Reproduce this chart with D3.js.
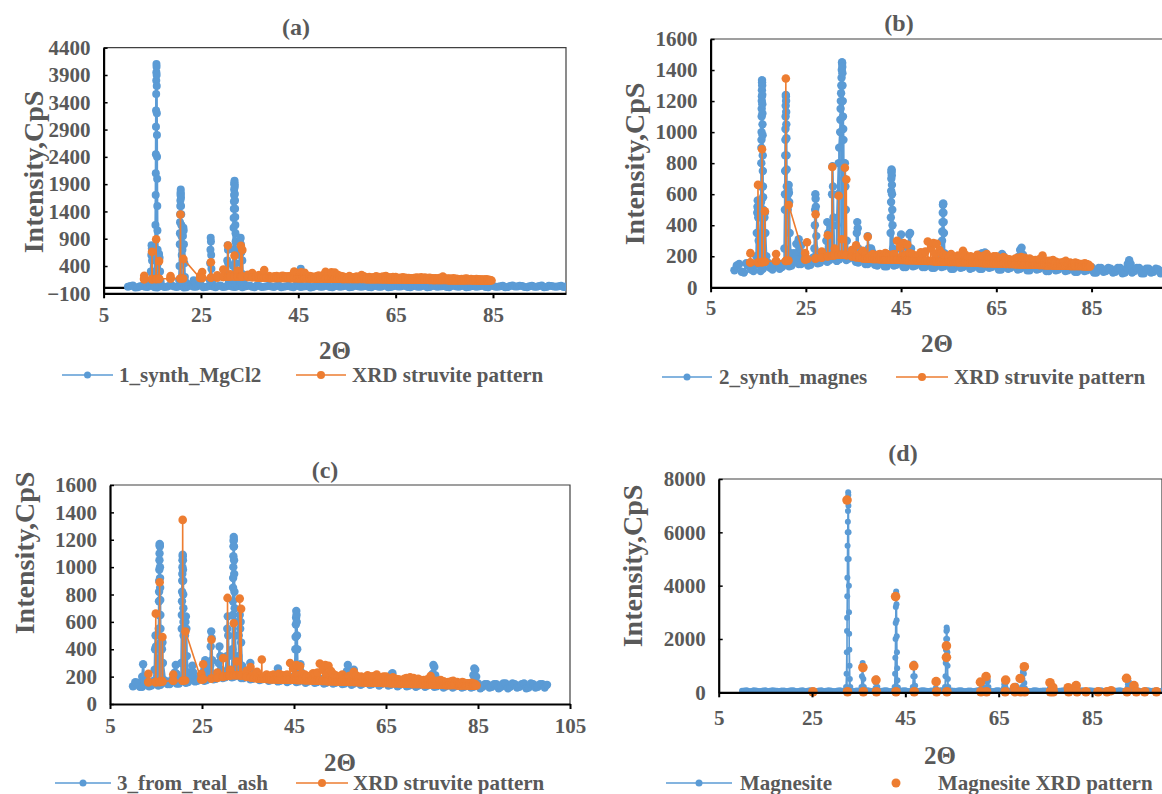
<!DOCTYPE html>
<html><head><meta charset="utf-8">
<script src="https://cdn.jsdelivr.net/npm/d3@7"></script>
<style>
body{margin:0;background:#fff}
svg{display:block}
text{font-family:"Liberation Serif","Times New Roman",serif;font-weight:bold;fill:#595959}
</style>
</head><body>
<svg id="chart" width="1162" height="794"></svg>
<script>
// ---------------- DATA ----------------
// scan grid (2θ) for background readings
const scanX = [10,11,12,13,14,15,16,17,18,19,20,21,22,23,24,25,26,27,28,29,30,31,32,33,34,35,36,37,38,39,40,41,42,43,44,45,46,47,48,49,50,51,52,53,54,55,56,57,58,59,60,61,62,63,64,65,66,67,68,69,70,71,72,73,74,75,76,77,78,79,80,81,82,83,84,85,86,87,88,89,90,91,92,93,94,95,96,97,98,99,100];
const scanXHalf = [10.5,11.5,12.5,13.5,14.5,15.5,16.5,17.5,18.5,19.5,20.5,21.5,22.5,23.5,24.5,25.5,26.5,27.5,28.5,29.5,30.5,31.5,32.5,33.5,34.5,35.5,36.5,37.5,38.5,39.5,40.5,41.5,42.5,43.5,44.5,45.5,46.5,47.5,48.5,49.5,50.5,51.5,52.5,53.5,54.5,55.5,56.5,57.5,58.5,59.5,60.5,61.5,62.5,63.5,64.5,65.5,66.5,67.5,68.5,69.5,70.5,71.5,72.5,73.5,74.5,75.5,76.5,77.5,78.5,79.5,80.5,81.5,82.5,83.5,84.5,85.5,86.5,87.5,88.5,89.5,90.5,91.5,92.5,93.5,94.5,95.5,96.5,97.5,98.5,99.5];

// (a) 1_synth_MgCl2
const baseA = [20,45,10,40,15,35,5,40,20,45, 15,40,10,45,20,50,15,40,10,45, 20,35,15,40,25,45,10,35,20,40, 15,45,20,40,10,35,25,45,15,40, 20,35,10,40,25,45,15,35,20,40, 10,35,20,45,15,40,25,35,10,40, 20,45,15,35,25,40,10,45,20,35, 15,40,25,45,10,35,20,40,15,45, 25,35,10,40,20,45,15,35,20,40, 25];
const baseA2 = [35,5,30,20,45,10,30,15,40,25, 30,5,35,20,40,10,30,25,35,15, 40,20,30,10,35,20,45,15,30,25, 35,10,30,20,45,15,30,5,35,20, 40,15,30,20,35,10,40,25,30,15, 35,20,40,10,30,25,45,15,30,20, 35,10,40,20,30,15,35,25,40,10, 30,20,35,15,45,20,30,10,35,25, 40,15,30,20,35,10,40,25,30,15];
const peaksA = [[14.6,60],[14.7,300],[14.8,600],[14.85,780],[14.9,720],[14.95,500],[15.0,250],[15.1,100],
 [15.4,120],[15.5,300],[15.6,700],[15.65,1150],[15.7,1700],[15.72,2100],[15.74,2450],[15.76,2950],[15.78,3250],[15.8,3550],[15.82,3800],[15.84,3950],[15.86,4100],[15.88,4050],[15.9,3900],[15.92,3700],[15.94,3200],[15.96,2800],[15.98,2400],[16.0,2000],[16.03,1500],[16.06,1050],[16.1,700],[16.15,450],
 [16.3,500],[16.4,620],[16.5,550],[16.6,300],[16.7,120],
 [20.5,150],[20.6,400],[20.65,800],[20.67,1000],[20.7,1200],[20.72,1350],[20.75,1500],[20.77,1600],[20.8,1700],[20.82,1750],[20.85,1800],[20.87,1720],[20.9,1650],[20.92,1500],[20.95,1350],[20.97,1150],[21.0,950],[21.02,780],[21.05,600],
 [21.2,700],[21.3,950],[21.4,1100],[21.45,1050],[21.5,800],[21.6,450],[21.7,200],[21.9,100],
 [23.2,80],[23.5,140],[23.8,90],
 [26.8,150],[26.9,450],[26.95,700],[27.0,920],[27.05,850],[27.1,600],[27.15,350],[27.3,120],
 [30.3,200],[30.4,500],[30.5,780],[30.55,700],[30.6,450],[30.7,200],
 [31.5,150],[31.6,400],[31.65,700],[31.7,1100],[31.72,1280],[31.75,1450],[31.77,1580],[31.8,1700],[31.82,1800],[31.85,1900],[31.87,1930],[31.9,1960],[31.92,1900],[31.95,1850],[31.97,1720],[32.0,1600],[32.02,1450],[32.05,1300],[32.07,1150],[32.1,1000],[32.12,850],[32.15,700],[32.2,450],[32.3,250],
 [32.9,300],[33.0,600],[33.1,900],[33.15,920],[33.2,800],[33.3,650],[33.4,680],[33.5,500],[33.6,250],[33.8,100],
 [45.3,150],[45.5,350],[45.7,200]];

// (b) 2_synth_magnes
const baseB = [110,150,95,140,105,150,120,160,115,155, 130,170,140,180,150,175,145,185,160,190, 175,200,180,205,185,190,160,175,150,170, 140,165,135,160,145,165,130,160,140,155, 130,155,125,150,135,150,120,145,130,150, 125,145,120,150,130,140,115,145,125,140, 120,140,110,135,120,140,105,135,115,130, 110,130,100,125,110,130,95,125,105,120, 100,125,95,120,105,125,90,120,100,115, 105];
const baseB2 = [140,100,155,115,145,105,165,125,150,120, 160,135,185,150,170,140,190,155,180,165, 205,170,210,175,195,165,185,150,175,145, 170,135,165,140,170,130,165,135,160,130, 160,125,155,130,155,120,150,125,150,120, 150,120,145,125,150,115,145,120,140,115, 145,110,140,115,140,105,135,110,130,105, 135,100,130,105,130,95,125,100,125,95, 125,90,125,95,125,90,120,95,120,90];
const peaksB = [[14.6,200],[14.7,350],[14.8,480],[14.85,520],[14.9,560],[14.95,510],[15.0,450],[15.1,300],
 [15.5,300],[15.6,550],[15.62,650],[15.65,800],[15.67,900],[15.68,950],[15.7,1000],[15.72,1100],[15.73,1150],[15.75,1200],[15.77,1230],[15.78,1270],[15.8,1335],[15.81,1320],[15.83,1300],[15.85,1240],[15.86,1180],[15.88,1120],[15.9,1050],[15.92,980],[15.95,850],[15.97,750],[16.0,650],[16.02,580],[16.05,500],
 [16.3,450],[16.4,480],[16.5,350],[16.7,200],
 [20.5,250],[20.6,500],[20.62,600],[20.65,750],[20.67,850],[20.7,950],[20.72,1020],[20.75,1100],[20.77,1170],[20.8,1240],[20.82,1230],[20.85,1200],[20.87,1130],[20.9,1050],[20.92,960],[20.95,850],[20.97,760],[21.0,650],
 [21.2,500],[21.3,600],[21.35,630],[21.4,660],[21.45,610],[21.5,550],[21.6,350],[21.8,220],
 [22.5,220],[23.0,280],[23.5,310],[24.0,270],[24.5,210],
 [26.8,250],[26.9,400],[26.95,500],[27.0,600],[27.05,570],[27.1,520],[27.2,330],[27.4,220],
 [29.3,300],[29.5,420],[29.7,350],
 [30.4,400],[30.5,600],[30.6,780],[30.7,650],[30.8,450],
 [31.5,400],[31.7,600],[31.9,800],[32.0,900],[32.2,1000],[32.25,1080],[32.3,1150],[32.35,1200],[32.4,1250],[32.45,1300],[32.5,1350],[32.55,1400],[32.6,1450],[32.62,1440],[32.65,1420],[32.68,1380],[32.7,1300],[32.75,1200],[32.8,1100],[32.85,1020],[32.9,950],[33.0,800],[33.1,700],[33.2,800],[33.3,650],[33.4,500],[33.6,300],
 [35.6,250],[35.7,350],[35.8,420],[35.9,380],[36.0,250],
 [37.8,220],[38.0,330],[38.2,250],[38.7,250],[38.9,230],
 [42.7,200],[42.8,350],[42.85,450],[42.9,550],[42.92,620],[42.95,700],[42.97,740],[43.0,760],[43.02,750],[43.05,720],[43.08,660],[43.1,600],[43.15,500],[43.2,400],[43.3,250],
 [44.8,250],[45.0,340],[45.2,260],
 [46.5,250],[46.7,340],[46.9,350],[47.1,250],
 [53.5,200],[53.6,300],[53.65,360],[53.7,420],[53.75,480],[53.8,530],[53.82,535],[53.85,540],[53.9,480],[53.95,420],[54.0,350],[54.1,220],
 [61.4,210],[62.0,220],[62.6,225],[63.0,200],
 [66.2,215],[66.5,200],
 [69.8,200],[70.0,240],[70.3,255],[70.6,210],
 [92.6,150],[92.9,175],[93.2,150]];

// (c) 3_from_real_ash
const baseC = [130,155,125,160,135,165,140,170,145,175, 150,180,160,190,170,195,175,200,185,205, 195,215,200,210,190,205,185,200,180,195, 175,195,170,190,170,190,165,185,165,180, 160,180,155,180,155,175,150,175,150,170, 150,170,145,165,145,165,140,160,140,160, 135,160,135,155,135,155,130,150,130,150, 130,150,125,150,125,150,125,145,125,145, 125,150,125,145,125,150,120,145,125,145, 140];
const baseC2 = [160,125,165,130,170,135,175,145,180,150, 185,155,195,165,200,170,210,180,215,190, 225,195,220,190,215,180,205,175,200,170, 200,165,195,160,195,160,190,155,185,155, 185,150,180,150,180,145,175,140,175,140, 170,140,170,135,165,135,165,130,160,130, 160,125,160,125,155,125,155,120,150,120, 150,120,150,120,150,115,145,120,145,115, 150,115,150,120,145,115,150,120,145,120];
const peaksC = [[12.0,200],[12.2,290],[12.4,200],
 [14.7,250],[14.8,400],[14.9,500],[15.0,420],[15.1,250],
 [15.5,300],[15.6,550],[15.62,650],[15.65,750],[15.67,820],[15.7,900],[15.72,980],[15.75,1050],[15.77,1100],[15.8,1170],[15.81,1160],[15.83,1150],[15.86,1000],[15.88,920],[15.9,850],[15.92,760],[15.95,650],[15.97,550],[16.0,450],
 [16.3,400],[16.4,450],[16.5,300],
 [19.1,230],[19.3,285],[19.5,220],
 [20.5,300],[20.6,550],[20.62,650],[20.65,750],[20.67,820],[20.7,900],[20.72,950],[20.75,1000],[20.77,1050],[20.8,1090],[20.82,1080],[20.85,1050],[20.87,980],[20.9,900],[20.92,800],[20.95,700],[20.97,600],[21.0,500],
 [21.3,500],[21.4,600],[21.5,640],[21.6,550],[21.7,350],[21.9,230],
 [22.7,230],[22.9,280],[23.1,230],
 [25.5,250],[25.7,320],[25.9,250],
 [26.8,280],[26.9,420],[27.0,530],[27.1,480],[27.2,320],
 [28.6,300],[28.8,420],[29.0,350],[29.2,250],
 [30.4,350],[30.5,550],[30.6,640],[30.7,500],[30.8,350],
 [31.6,400],[31.7,650],[31.72,750],[31.75,850],[31.77,920],[31.8,1000],[31.82,1080],[31.85,1150],[31.87,1190],[31.9,1220],[31.92,1200],[31.95,1150],[31.97,1050],[32.0,950],[32.05,820],[32.1,700],[32.15,600],[32.2,500],
 [32.9,350],[33.0,500],[33.1,600],[33.2,650],[33.3,550],[33.4,600],[33.5,450],[33.7,280],
 [35.3,250],[35.5,300],[35.7,240],
 [41.5,260],
 [45.2,250],[45.3,400],[45.35,490],[45.4,580],[45.45,630],[45.5,680],[45.55,650],[45.6,600],[45.65,500],[45.7,400],[45.8,260],
 [46.2,260],[46.4,290],[46.6,230],
 [56.5,240],[56.7,285],[56.9,230],
 [57.8,240],[58.0,250],
 [66.2,215],[66.4,225],
 [75.1,220],[75.3,285],[75.5,270],[75.7,210],
 [84.0,210],[84.2,260],[84.4,250],[84.6,200]];

// (d) Magnesite
const baseD = [55,75,45,70,50,75,55,70,45,65, 60,80,50,75,55,70,45,75,55,70, 50,75,55,80,50,70,60,75,50,70, 55,75,50,70,55,80,50,70,55,75, 45,70,55,75,50,70,55,80,50,70, 55,75,50,70,45,75,55,70,50,75, 55,70,50,75,55,70,45,70,55,75, 50,70,55,75,50,70,55,75,45,70, 55,75,50,70,55,70,50,75,55,70, 60];
const baseD2 = [70,45,75,50,70,45,75,55,65,50, 75,50,70,45,75,55,70,50,75,45, 70,55,75,50,70,45,80,55,70,50, 75,45,70,55,75,50,70,45,75,55, 70,50,75,45,70,55,75,50,70,45, 75,55,70,50,75,45,70,55,75,50, 70,45,75,55,70,50,75,45,70,55, 75,50,70,45,75,55,70,50,75,45, 70,55,75,50,70,45,75,55,70,50];
const peaksD = [[32.3,200],[32.4,700],[32.45,1500],[32.5,2300],[32.52,2800],[32.55,3600],[32.58,4300],[32.6,5000],[32.62,5500],[32.65,6000],[32.68,6400],[32.7,6800],[32.72,7200],[32.75,7500],[32.78,7400],[32.8,7000],[32.83,6000],[32.86,5000],[32.9,4000],[32.93,3000],[32.96,2200],[33.0,1600],[33.05,1000],[33.1,500],[33.2,200],
 [35.6,200],[35.7,600],[35.8,1000],[35.85,1100],[35.9,950],[36.0,500],[36.1,200],
 [38.6,150],[38.7,350],[38.8,520],[38.9,450],[39.0,200],
 [42.7,200],[42.8,700],[42.85,1300],[42.9,2000],[42.93,2600],[42.96,3200],[43.0,3600],[43.03,3780],[43.06,3700],[43.1,3300],[43.13,2700],[43.16,2100],[43.2,1500],[43.25,900],[43.3,450],[43.4,180],
 [46.6,200],[46.7,600],[46.8,950],[46.85,1080],[46.9,1000],[47.0,600],[47.1,250],
 [51.5,150],
 [53.5,200],[53.6,600],[53.65,1100],[53.7,1600],[53.75,2000],[53.8,2300],[53.85,2430],[53.9,2350],[53.95,2000],[54.0,1500],[54.05,1000],[54.1,500],[54.2,200],
 [61.3,150],[61.4,250],[61.5,150],
 [62.4,200],[62.5,400],[62.6,520],[62.7,420],[62.8,200],
 [66.1,150],[66.2,300],[66.3,400],[66.4,300],[66.5,150],
 [68.6,150],[68.7,250],[68.8,150],
 [70.0,200],[70.1,500],[70.2,750],[70.3,820],[70.4,700],[70.5,350],[70.6,150],
 [75.9,120],[76.1,180],[76.3,120],
 [81.0,120],[81.3,150],
 [92.6,150],[92.7,300],[92.8,420],[92.9,380],[93.0,200],
 [94.1,150]];

// XRD struvite reference pattern (used in a, b, c)
const struvitePattern = [[13.3,160],[13.35,220],[13.4,160],[14.9,160],[14.95,660],[15.0,160],[15.75,160],[15.8,890],[15.85,165],[16.35,165],[16.4,490],[16.45,165],[18.7,170],[18.75,215],[18.8,170],[20.75,170],[20.8,1345],[20.85,170],[21.35,172],[21.4,530],[24.8,180],[24.85,220],[24.9,180],[25.2,182],[25.25,290],[25.3,182],[27.0,185],[27.05,470],[27.1,188],[28.3,190],[28.35,230],[28.4,192],[29.55,198],[29.6,335],[29.65,200],[30.5,205],[30.55,775],[30.6,205],[31.0,207],[31.05,250],[31.1,207],[31.85,210],[31.9,590],[31.95,210],[32.5,210],[32.55,310],[32.6,210],[33.15,210],[33.2,770],[33.25,210],[33.45,208],[33.5,695],[33.55,206],[34.6,200],[34.65,240],[34.7,198],[35.5,195],[35.55,270],[35.6,193],[36.3,190],[36.35,215],[36.4,190],[36.9,188],[36.95,235],[37.0,186],[37.45,186],[37.5,205],[37.55,186],[37.95,185],[38.0,325],[38.05,184],[38.45,184],[38.5,200],[38.55,184],[39.0,183],[39.05,215],[39.1,183],[39.35,183],[39.4,195],[39.45,183],[39.7,182],[39.75,200],[39.8,182],[40.05,182],[40.1,210],[40.15,182],[40.5,181],[40.55,215],[40.6,181],[40.85,181],[40.9,200],[40.95,181],[41.3,180],[41.35,205],[41.4,180],[41.65,180],[41.7,220],[41.75,180],[42.0,180],[42.05,215],[42.1,180],[42.45,179],[42.5,205],[42.55,179],[42.9,179],[42.95,210],[43.0,179],[43.45,178],[43.5,215],[43.55,178],[44.1,178],[44.15,300],[44.2,178],[44.75,177],[44.8,260],[44.85,177],[45.15,177],[45.2,205],[45.25,177],[45.5,176],[45.55,285],[45.6,176],[45.9,176],[45.95,210],[46.0,176],[46.25,175],[46.3,275],[46.35,175],[46.75,175],[46.8,220],[46.85,175],[47.3,174],[47.35,215],[47.4,174],[47.75,174],[47.8,205],[47.85,174],[48.3,173],[48.35,200],[48.4,173],[48.7,173],[48.75,210],[48.8,173],[49.1,172],[49.15,225],[49.2,172],[49.55,172],[49.6,215],[49.65,172],[50.05,171],[50.1,230],[50.15,171],[50.55,170],[50.6,295],[50.65,170],[51.2,169],[51.25,250],[51.3,169],[51.75,168],[51.8,285],[51.85,168],[52.1,168],[52.15,215],[52.2,168],[52.45,167],[52.5,280],[52.55,167],[53.0,166],[53.05,240],[53.1,166],[53.45,166],[53.5,220],[53.55,166],[54.0,165],[54.05,210],[54.1,165],[54.45,165],[54.5,200],[54.55,165],[55.0,164],[55.05,190],[55.1,164],[55.45,164],[55.5,215],[55.55,164],[56.0,163],[56.05,190],[56.1,163],[56.45,163],[56.5,195],[56.55,163],[56.9,162],[56.95,205],[57.0,162],[57.3,162],[57.35,200],[57.4,162],[57.95,161],[58.0,235],[58.05,161],[58.45,161],[58.5,210],[58.55,161],[59.0,160],[59.05,190],[59.1,160],[59.55,160],[59.6,200],[59.65,160],[60.0,159],[60.05,190],[60.1,159],[60.5,158],[60.55,195],[60.6,158],[60.95,158],[61.0,210],[61.05,158],[61.5,157],[61.55,200],[61.6,157],[61.95,157],[62.0,200],[62.05,157],[62.4,156],[62.45,205],[62.5,156],[62.95,156],[63.0,215],[63.05,156],[63.5,155],[63.55,195],[63.6,155],[63.95,155],[64.0,190],[64.05,155],[64.4,154],[64.45,200],[64.5,154],[64.95,154],[65.0,200],[65.05,154],[65.5,153],[65.55,180],[65.6,153],[65.95,152],[66.0,185],[66.05,152],[66.45,152],[66.5,195],[66.55,152],[67.0,151],[67.05,185],[67.1,151],[67.65,151],[67.7,180],[67.75,151],[68.1,150],[68.15,175],[68.2,150],[68.5,150],[68.55,175],[68.6,150],[68.95,149],[69.0,185],[69.05,149],[69.4,149],[69.45,190],[69.5,149],[69.8,148],[69.85,180],[69.9,148],[70.2,148],[70.25,195],[70.3,148],[70.6,147],[70.65,175],[70.7,147],[70.95,147],[71.0,190],[71.05,147],[71.5,147],[71.55,180],[71.6,147],[71.95,146],[72.0,185],[72.05,146],[72.5,146],[72.55,175],[72.6,146],[72.85,145],[72.9,170],[72.95,145],[73.15,145],[73.2,175],[73.25,145],[73.6,145],[73.65,170],[73.7,145],[73.95,144],[74.0,180],[74.05,144],[74.3,144],[74.35,165],[74.4,144],[74.65,144],[74.7,205],[74.75,144],[75.1,143],[75.15,165],[75.2,143],[75.5,143],[75.55,170],[75.6,143],[75.85,142],[75.9,165],[75.95,142],[76.15,142],[76.2,170],[76.25,142],[76.55,142],[76.6,160],[76.65,142],[76.85,141],[76.9,175],[76.95,141],[77.2,141],[77.25,160],[77.3,141],[77.5,141],[77.55,165],[77.6,141],[77.85,140],[77.9,158],[77.95,140],[78.15,140],[78.2,155],[78.25,140],[78.5,140],[78.55,160],[78.6,140],[78.85,140],[78.9,155],[78.95,140],[79.15,139],[79.2,165],[79.25,139],[79.55,139],[79.6,170],[79.65,139],[80.0,139],[80.05,155],[80.1,139],[80.45,138],[80.5,160],[80.55,138],[80.75,138],[80.8,152],[80.85,138],[81.0,138],[81.05,150],[81.1,138],[81.35,138],[81.4,152],[81.45,138],[81.55,138],[81.6,160],[81.65,138],[81.95,137],[82.0,155],[82.05,137],[82.25,137],[82.3,150],[82.35,137],[82.5,137],[82.55,150],[82.6,137],[82.85,137],[82.9,150],[82.95,137],[83.15,136],[83.2,150],[83.25,136],[83.55,136],[83.6,155],[83.65,136],[83.85,136],[83.9,148],[83.95,136],[84.0,136],[84.05,148],[84.1,136],[84.35,136],[84.4,145],[84.45,136],[84.7,135]];

// Magnesite XRD reference pattern (d, markers only)
const magnesitePattern = [[25.2,20],[32.5,7210],[32.6,20],[35.9,930],[36.0,20],[38.7,460],[38.8,20],[42.9,3590],[43.0,20],[46.8,990],[46.9,20],[51.6,400],[51.7,20],[53.8,1740],[53.8,1310],[53.9,20],[61.1,380],[61.2,20],[62.3,590],[62.4,20],[66.4,20],[66.5,460],[68.4,180],[68.5,20],[69.6,520],[69.7,20],[70.5,960],[70.6,20],[76.0,360],[76.1,20],[76.6,180],[76.7,20],[79.9,170],[80.0,20],[81.6,250],[81.8,20],[83.7,20],[86.3,20],[88.2,20],[89.1,60],[92.4,525],[92.5,20],[94.0,250],[94.5,20],[96.3,20],[98.8,20]];

// tick labels
const xTicksA = [5,25,45,65,85];
const xTicksB = [5,25,45,65,85];
const xTicksC = [5,25,45,65,85,105];
const xTicksD = [5,25,45,65,85];
const yTicksA = [-100,400,900,1400,1900,2400,2900,3400,3900,4400];
const yTicksB = [0,200,400,600,800,1000,1200,1400,1600];
const yTicksC = [0,200,400,600,800,1000,1200,1400,1600];
const yTicksD = [0,2000,4000,6000,8000];

const seriesNames = {a:"1_synth_MgCl2", b:"2_synth_magnes", c:"3_from_real_ash", d:"Magnesite"};
const refNames = {a:"XRD struvite pattern", b:"XRD struvite pattern", c:"XRD struvite pattern", d:"Magnesite XRD pattern"};

// ---------------- BUILD ----------------
function buildSeries(base, base2, peaks){
  const pts = scanX.map((x,i)=>[x, base[i]])
    .concat(scanXHalf.map((x,i)=>[x, base2[i]]))
    .concat(peaks);
  pts.sort((p,q)=>p[0]-q[0]);
  return pts;
}
const BLUE = "#5B9BD5", ORANGE = "#ED7D31";

const panels = [
 {k:"a", title:"(a)", data:buildSeries(baseA,baseA2,peaksA), ref:struvitePattern, refLine:true,
  xd:[5,100], yd:[-100,4400], xt:xTicksA, yt:yTicksA,
  L:103.6, R:566, T:47.7, B:293.3, tx:296, ty:27, ylx:33, yly:172, xlx:335, xly:350, xtly:317,
  leg:{y:375, l1:[62,113], t1:119, l2:[296,346], t2:352}, br:4, bw:2.2, rr:4.3, zeroLine:true},
 {k:"b", title:"(b)", data:buildSeries(baseB,baseB2,peaksB), ref:struvitePattern, refLine:true,
  xd:[5,100], yd:[0,1600], xt:xTicksB, yt:yTicksB,
  L:710.6, R:1163, T:39, B:287.3, tx:899, ty:23, ylx:634, yly:164, xlx:937, xly:343, xtly:310,
  leg:{y:377, l1:[662,712], t1:719, l2:[896,948], t2:954}, br:4.2, bw:2.2, rr:4.3},
 {k:"c", title:"(c)", data:buildSeries(baseC,baseC2,peaksC), ref:struvitePattern, refLine:true,
  xd:[5,105], yd:[0,1600], xt:xTicksC, yt:yTicksC,
  L:110, R:570, T:485, B:704, tx:325, ty:470, ylx:24, yly:553, xlx:340, xly:762, xtly:728,
  leg:{y:783, l1:[55,111], t1:117, l2:[296,348], t2:353}, br:4.2, bw:2.2, rr:4.3},
 {k:"d", title:"(d)", data:buildSeries(baseD,baseD2,peaksD), ref:magnesitePattern, refLine:false,
  xd:[5,100], yd:[0,8000], xt:xTicksD, yt:yTicksD,
  L:718.7, R:1162, T:479, B:692.3, tx:903, ty:453, ylx:632, yly:566, xlx:940, xly:755, xtly:720,
  leg:{y:783, l1:[666,732], t1:740, l2:null, m2:896, t2:938}, br:3, bw:1.6, rr:4.8}
];

const svg = d3.select("#chart");
const defs = svg.append("defs");

panels.forEach(p=>{
  const g = svg.append("g");
  const x = d3.scaleLinear().domain(p.xd).range([p.L,p.R]);
  const y = d3.scaleLinear().domain(p.yd).range([p.B,p.T]);

  defs.append("clipPath").attr("id","clip"+p.k).append("rect")
    .attr("x",p.L).attr("y",p.T-6).attr("width",p.R-p.L).attr("height",p.B-p.T+12);

  // plot area border (top/right)
  g.append("path").attr("d",`M${p.L},${p.T}H${p.R}V${p.B}`)
    .attr("fill","none").attr("stroke","#404040").attr("stroke-width",1.2);

  if(p.zeroLine){
    g.append("line").attr("x1",p.L).attr("x2",p.R).attr("y1",y(0)).attr("y2",y(0))
      .attr("stroke","#000").attr("stroke-width",2.2);
  }

  const plot = g.append("g").attr("clip-path",`url(#clip${p.k})`);
  const line = d3.line().x(d=>x(d[0])).y(d=>y(d[1]));

  plot.append("path").datum(p.data).attr("d",line).attr("fill","none")
    .attr("stroke",BLUE).attr("stroke-width",p.bw).attr("stroke-linejoin","round");
  plot.append("g").selectAll("circle").data(p.data).join("circle")
    .attr("cx",d=>x(d[0])).attr("cy",d=>y(d[1])).attr("r",p.br).attr("fill",BLUE);

  if(p.refLine){
    plot.append("path").datum(p.ref).attr("d",line).attr("fill","none")
      .attr("stroke",ORANGE).attr("stroke-width",1.6);
  }
  plot.append("g").selectAll("circle").data(p.ref).join("circle")
    .attr("cx",d=>x(d[0])).attr("cy",d=>y(d[1])).attr("r",p.rr).attr("fill",ORANGE);

  // axes
  const xa = g.append("g").attr("transform",`translate(0,${p.B})`)
    .call(d3.axisBottom(x).tickValues(p.xt).tickSizeInner(5).tickSizeOuter(0).tickPadding(8).tickFormat(d3.format("d")));
  xa.select(".domain").attr("stroke","#000").attr("stroke-width",2.2);
  xa.selectAll(".tick line").attr("stroke","#000").attr("stroke-width",2);
  xa.selectAll(".tick text").style("font-size","21px").style("font-family",'"Liberation Serif",serif')
    .style("font-weight","bold").attr("fill","#595959").attr("y",null).attr("dy",null)
    .attr("dominant-baseline","middle").attr("transform",`translate(0,${p.xtly-p.B})`);

  const ya = g.append("g").attr("transform",`translate(${p.L},0)`)
    .call(d3.axisLeft(y).tickValues(p.yt).tickSizeInner(-4).tickSizeOuter(0).tickPadding(13).tickFormat(d3.format("d")));
  ya.select(".domain").attr("stroke","#000").attr("stroke-width",2.2);
  ya.selectAll(".tick line").attr("stroke","#000").attr("stroke-width",1.5);
  ya.selectAll(".tick text").style("font-size","21px").style("font-family",'"Liberation Serif",serif')
    .style("font-weight","bold").attr("fill","#595959");

  // titles
  g.append("text").attr("x",p.tx).attr("y",p.ty).attr("text-anchor","middle")
    .attr("dominant-baseline","central").style("font-size","24px").text(p.title);
  g.append("text").attr("transform",`translate(${p.ylx},${p.yly}) rotate(-90)`)
    .attr("text-anchor","middle").attr("dominant-baseline","central")
    .style("font-size","28px").text("Intensity,CpS");
  g.append("text").attr("x",p.xlx).attr("y",p.xly).attr("text-anchor","middle")
    .attr("dominant-baseline","central").style("font-size","25px").text("2\u0398");

  // legend
  const lg = g.append("g");
  const ly = p.leg.y;
  lg.append("line").attr("x1",p.leg.l1[0]).attr("x2",p.leg.l1[1]).attr("y1",ly).attr("y2",ly)
    .attr("stroke",BLUE).attr("stroke-width",1.5);
  lg.append("circle").attr("cx",(p.leg.l1[0]+p.leg.l1[1])/2).attr("cy",ly).attr("r",3.5).attr("fill",BLUE);
  lg.append("text").attr("x",p.leg.t1).attr("y",ly).attr("dominant-baseline","central")
    .style("font-size","21px").text(seriesNames[p.k]);
  if(p.leg.l2){
    lg.append("line").attr("x1",p.leg.l2[0]).attr("x2",p.leg.l2[1]).attr("y1",ly).attr("y2",ly)
      .attr("stroke",ORANGE).attr("stroke-width",1.5);
    lg.append("circle").attr("cx",(p.leg.l2[0]+p.leg.l2[1])/2).attr("cy",ly).attr("r",4).attr("fill",ORANGE);
  } else {
    lg.append("circle").attr("cx",p.leg.m2).attr("cy",ly).attr("r",4.5).attr("fill",ORANGE);
  }
  lg.append("text").attr("x",p.leg.t2).attr("y",ly).attr("dominant-baseline","central")
    .style("font-size","21px").text(refNames[p.k]);
});
</script>
</body></html>
